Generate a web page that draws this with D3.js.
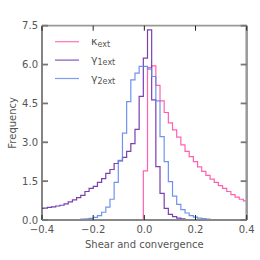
<!DOCTYPE html>
<html>
<head>
<meta charset="utf-8">
<script src="https://cdn.jsdelivr.net/npm/d3@7"></script>
<style>
  body { margin: 0; background: #fff; }
  text { font-family: "DejaVu Sans", sans-serif; }
</style>
</head>
<body>
<svg id="mainsvg" width="260" height="260"></svg>
<script>
// histogram bins shared by all three series
let binStart = -0.4115;
let binWidth = 0.0163;

// kappa_ext starts at bin index 25 (the bin beginning near 0)
let kappaFirst = 25;
let kappaVals = [1.9, 5.88, 5.95, 5.2, 4.6, 4.15, 3.75, 3.48, 3.2, 2.9, 2.65, 2.45, 2.25,
    2.05, 1.88, 1.72, 1.58, 1.45, 1.33, 1.22, 1.1, 0.98, 0.88, 0.8, 0.74, 0.7];

let gamma1First = 0;
let gamma1Vals = [0.45, 0.46, 0.49, 0.51, 0.54, 0.57, 0.62, 0.70, 0.78, 0.86, 0.95, 1.10, 1.22,
    1.30, 1.45, 1.60, 1.80, 1.95, 2.18, 2.28, 2.42, 2.65, 2.95, 3.50, 4.77, 6.25, 7.34, 4.64,
    2.06, 1.03, 0.45, 0.22, 0.13, 0.07, 0.04, 0.02, 0.01, 0.01, 0, 0, 0, 0, 0, 0, 0, 0, 0, 0, 0, 0, 0];

let gamma2First = 0;
let gamma2Vals = [0.005, 0.005, 0.005, 0.005, 0.005, 0.005, 0.005, 0.01, 0.015, 0.02, 0.03, 0.04,
    0.06, 0.1, 0.17, 0.3, 0.5, 0.8, 1.45, 2.3, 3.35, 4.57, 5.41, 5.67, 5.93, 5.93, 5.82, 5.54,
    4.6, 3.22, 2.25, 1.48, 0.92, 0.6, 0.4, 0.27, 0.17, 0.11, 0.07, 0.05, 0.03, 0.02, 0.015,
    0.01, 0.005, 0.005, 0.005, 0.005, 0.005, 0.005, 0.005];

let xTicks = [-0.4, -0.2, 0.0, 0.2, 0.4];
let yTicks = [0, 1.5, 3.0, 4.5, 6.0, 7.5];

let series = [
    {name: "κ", sub: "ext", first: kappaFirst, vals: kappaVals, color: "#ff4fa6"},
    {name: "γ", sub: "1ext", first: gamma1First, vals: gamma1Vals, color: "#6a2aa6"},
    {name: "γ", sub: "2ext", first: gamma2First, vals: gamma2Vals, color: "#5f86ec"}
];

let svg = d3.select("#mainsvg");
let pLeft = 42, pRight = 246.7, pTop = 25.7, pBottom = 220;

let x = d3.scaleLinear().domain([-0.4, 0.4]).range([pLeft, pRight]);
let y = d3.scaleLinear().domain([0, 7.5]).range([pBottom, pTop]);

svg.append("clipPath").attr("id", "plotclip")
    .append("rect")
    .attr("x", pLeft).attr("y", pTop - 1)
    .attr("width", pRight - pLeft).attr("height", pBottom - pTop + 1);

// step outline of one histogram
function stepPath(s) {
    let p = d3.path();
    let e0 = binStart + s.first * binWidth;
    p.moveTo(x(e0), y(0));
    s.vals.forEach(function (v, i) {
        let a = binStart + (s.first + i) * binWidth;
        p.lineTo(x(a), y(v));
        p.lineTo(x(a + binWidth), y(v));
    });
    let end = binStart + (s.first + s.vals.length) * binWidth;
    p.lineTo(x(end), y(0));
    return p.toString();
}

let plotg = svg.append("g").attr("clip-path", "url(#plotclip)");
for (let s of series) {
    plotg.append("path")
        .attr("d", stepPath(s))
        .attr("fill", "none")
        .attr("stroke", s.color)
        .attr("stroke-width", 1.2)
        .attr("stroke-opacity", 0.9);
}

// spines
svg.append("line").attr("x1", pLeft).attr("x2", pRight).attr("y1", pTop).attr("y2", pTop)
    .attr("stroke", "#999").attr("stroke-width", 1.8);
svg.append("line").attr("x1", pRight).attr("x2", pRight).attr("y1", pTop).attr("y2", pBottom)
    .attr("stroke", "#999").attr("stroke-width", 2.5);
svg.append("line").attr("x1", pLeft).attr("x2", pRight).attr("y1", pBottom).attr("y2", pBottom)
    .attr("stroke", "#888").attr("stroke-width", 1.8);
svg.append("line").attr("x1", pLeft).attr("x2", pLeft).attr("y1", pTop).attr("y2", pBottom)
    .attr("stroke", "#333").attr("stroke-width", 1.2);

// x ticks (inside, top and bottom)
let fmt = d3.format(".1f");
let minus = v => fmt(v).replace("-", "\u2212");
for (let t of xTicks) {
    svg.append("line").attr("x1", x(t)).attr("x2", x(t)).attr("y1", pBottom).attr("y2", pBottom - 5)
        .attr("stroke", "#222").attr("stroke-width", 1);
    svg.append("line").attr("x1", x(t)).attr("x2", x(t)).attr("y1", pTop).attr("y2", pTop + 5)
        .attr("stroke", "#222").attr("stroke-width", 1);
    svg.append("text").attr("x", x(t)).attr("y", pBottom + 13)
        .attr("text-anchor", "middle").attr("font-size", 10).attr("fill", "#555")
        .text(minus(t));
}
// y ticks (inside, left and right)
for (let t of yTicks) {
    svg.append("line").attr("x1", pLeft).attr("x2", pLeft + 6).attr("y1", y(t)).attr("y2", y(t))
        .attr("stroke", "#777").attr("stroke-width", 1.8);
    svg.append("line").attr("x1", pRight).attr("x2", pRight - 6).attr("y1", y(t)).attr("y2", y(t))
        .attr("stroke", "#777").attr("stroke-width", 1.8);
    svg.append("text").attr("x", pLeft - 4).attr("y", y(t)).attr("dy", "0.35em")
        .attr("text-anchor", "end").attr("font-size", 10).attr("fill", "#555")
        .text(minus(t));
}

// axis titles
svg.append("text").attr("x", (pLeft + pRight) / 2).attr("y", 248)
    .attr("text-anchor", "middle").attr("font-size", 10).attr("fill", "#555")
    .text("Shear and convergence");
svg.append("text").attr("transform", "translate(15.5," + ((pTop + pBottom) / 2) + ") rotate(-90)")
    .attr("text-anchor", "middle").attr("font-size", 10).attr("fill", "#555")
    .text("Frequency");

// legend
let lg = svg.append("g");
series.forEach(function (s, i) {
    let ly = 41.7 + i * 18.4;
    lg.append("line").attr("x1", 55).attr("x2", 79).attr("y1", ly).attr("y2", ly)
        .attr("stroke", s.color).attr("stroke-width", 1.2).attr("stroke-opacity", 0.8);
    let txt = lg.append("text").attr("x", 91).attr("y", ly + 3.3)
        .attr("font-size", 11).attr("fill", "#555");
    txt.append("tspan").text(s.name);
    txt.append("tspan").attr("font-size", 8).attr("dy", 2).text(s.sub);
});
</script>
</body>
</html>
